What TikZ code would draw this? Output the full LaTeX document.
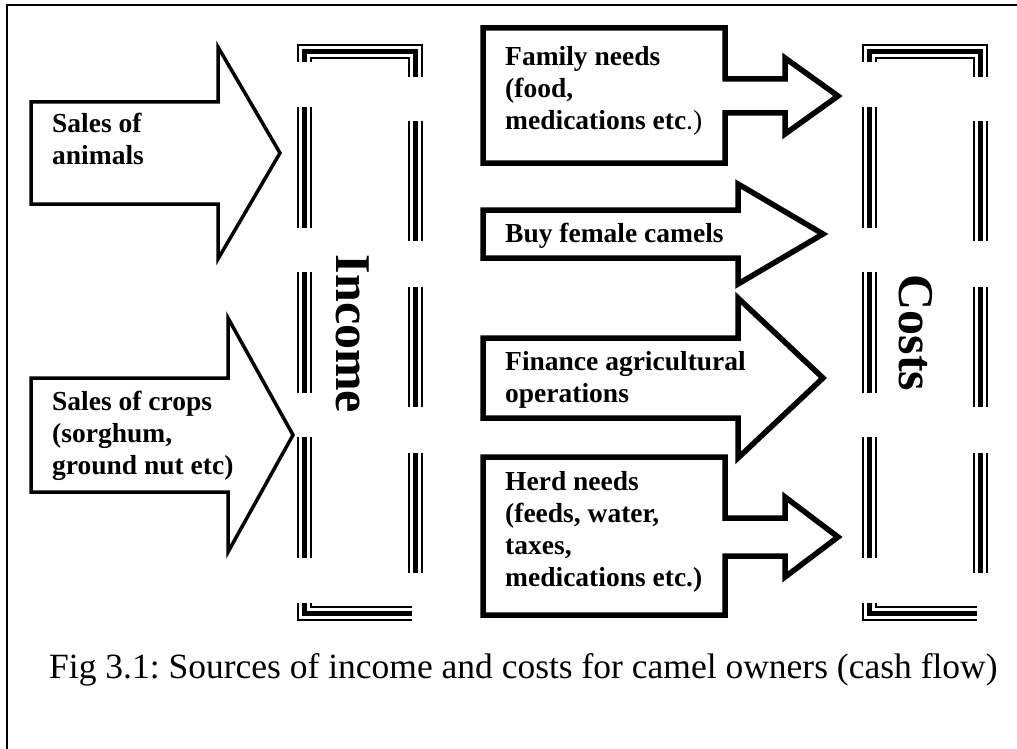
\documentclass[tikz,border=0pt]{standalone}
\usepackage{fontspec}
\setmainfont{Liberation Serif}
\frenchspacing

\begin{document}
\begin{tikzpicture}[
        x=1pt, y=-1pt,
        inarrow/.style={draw, line width=3.5pt, fill=white, line join=miter},
        outarrow/.style={draw, line width=5.5pt, fill=white, line join=miter},
        lbl/.style={font=\fontsize{27.5}{32}\selectfont\bfseries, align=left, anchor=north west, inner sep=0pt},
        side/.style={font=\fontsize{50}{60}\selectfont\bfseries, rotate=-90, inner sep=0pt},
        triple/.style={line width=5pt, preaction={draw, line width=15pt}, preaction={draw, white, line width=11pt}}
    ]
        \useasboundingbox (0,0) rectangle (1017,749);

        % Frame
        \draw[line width=2.5pt] (7,749) -- (7,5) -- (1017,5);

        % Income arrows
        \draw[inarrow] (31,102) -- (218,102) -- (218,47) -- (280,153) -- (218,259) -- (218,204) -- (31,204) -- cycle;
        \draw[inarrow] (31,378) -- (228,378) -- (228,318) -- (293,435) -- (228,552) -- (228,492) -- (31,492) -- cycle;
        \node[lbl] (animals) at (52,113) {Sales of\\animals};
        \node[lbl] (crops) at (52,391) {Sales of crops\\(sorghum,\\ground nut etc)};

        % Cost arrows
        \draw[outarrow] (483,28) -- (725,28) -- (725,79) -- (785,79) -- (785,58) -- (838,96) -- (785,134) -- (785,113) -- (725,113) -- (725,163) -- (483,163) -- cycle;
        \draw[outarrow] (483,210) -- (738,210) -- (738,184) -- (823,234) -- (738,284) -- (738,258) -- (483,258) -- cycle;
        \draw[outarrow] (483,338) -- (738,338) -- (738,298) -- (823,378) -- (738,458) -- (738,418) -- (483,418) -- cycle;
        \draw[outarrow] (483,457) -- (725,457) -- (725,518) -- (785,518) -- (785,497) -- (838,537) -- (785,577) -- (785,556) -- (725,556) -- (725,615) -- (483,615) -- cycle;
        \node[lbl] (family) at (505,46) {Family needs\\(food,\\medications etc\textmd{.)}};
        \node[lbl] (buy) at (505,223) {Buy female camels};
        \node[lbl] (finance) at (505,351) {Finance agricultural\\operations};
        \node[lbl] (herd) at (505,471) {Herd needs\\(feeds, water,\\taxes,\\medications etc.)};

        % Brackets
        \foreach \l/\r in {304/415, 869/980} {
            \draw[triple] (\l,62) -- (\l,52) -- (\r,52) -- (\r,77);
            \draw[triple] (\r-3,613) -- (\l,613) -- (\l,603);
            \foreach \y in {107,272,437}
                \draw[triple] (\l,\y) -- (\l,\y+121);
            \foreach \y in {121,287,453}
                \draw[triple] (\r,\y) -- (\r,\y+120);
        }
        \node[side] (income) at (353,334) {Income};
        \node[side] (costs) at (916,333) {Costs};

        % Caption
        \node[font=\fontsize{35.5}{40}\selectfont, anchor=base west, inner sep=0pt] (caption) at (49,678) {Fig 3.1: Sources of income and costs for camel owners (cash flow)};
\end{tikzpicture}
\end{document}
